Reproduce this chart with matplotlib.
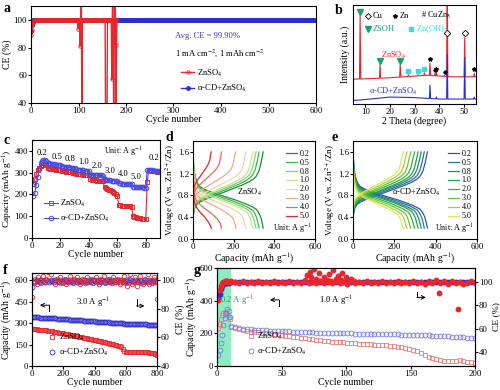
import numpy as np
import matplotlib
matplotlib.use("Agg")
import matplotlib.pyplot as plt

plt.rcParams['font.family'] = ['Liberation Serif', 'DejaVu Sans']
plt.rcParams['mathtext.fontset'] = 'stix'
plt.rcParams['font.size'] = 6.5
plt.rcParams['axes.linewidth'] = 0.8
plt.rcParams['xtick.major.size'] = 2
plt.rcParams['ytick.major.size'] = 2
plt.rcParams['xtick.major.pad'] = 1
plt.rcParams['ytick.major.pad'] = 0.8
plt.rcParams['xtick.labelsize'] = 6.4
plt.rcParams['ytick.labelsize'] = 6.4

RED = '#e8262b'
BLUE = '#2e2fd0'
ZN = 'ZnSO$_4$'
CD = 'α-CD+ZnSO$_4$'
UNIT = 'Unit: A g$^{-1}$'
LBL = 7.0

# ---------------- a: coulombic efficiency, plating/stripping ----------------
red_a_start = [89, 93, 96, 97.5, 98.5, 99.0, 99.3]
red_a_level = 99.6
red_a_last = 181
red_a_evt_x = [99, 103, 106, 107, 157, 158, 159, 160, 170, 172, 174, 175, 177, 179, 180]
red_a_evt_y = [93.5, 81, 118, 25, 25, 25, 25, 25, 57, 118, 25, 76, 118, 25, 82]
blue_a_start = [92, 96, 98.5, 99.5]
blue_a_level = 99.9
blue_a_last = 600

# ---------------- b: XRD ----------------
red_base_x = [5, 20, 35, 45, 55]
red_base_y = [25, 26.5, 29, 27.5, 27.5]
red_peak_x = [7.9, 16.0, 24.2, 27.5, 31.5, 34.0, 36.3, 38.3, 38.9, 42.2, 43.3, 50.4, 54.3]
red_peak_y = [90, 40, 40, 29.5, 29.5, 31.5, 41, 31, 32, 29, 130, 67, 31]
blue_base_x = [5, 12, 20, 30, 40, 55]
blue_base_y = [3.5, 5, 7, 6.5, 5, 5]
blue_peak_x = [36.3, 38.9, 43.3, 50.4, 54.3]
blue_peak_y = [19, 7, 50, 47, 7]

# ---------------- c: rate capability ----------------
rates = ['0.2', '0.5', '0.8', '1.0', '2.0', '3.0', '4.0', '5.0']
red_c = [250, 270, 292, 310, 322, 330, 334, 335, 334, 333,
         322, 320, 318, 317, 316, 315, 314, 313, 312, 311,
         308, 307, 306, 305, 304, 303, 302, 301, 300, 299,
         296, 295, 294, 293, 292, 291, 290, 289, 288, 287,
         270, 268, 267, 266, 265, 264, 263, 262, 261, 260,
         232, 228, 225, 222, 220, 217, 213, 208, 200, 192,
         152, 150, 149, 148, 147, 146, 146, 145, 145, 144,
         102, 98, 95, 93, 92, 90, 89, 88, 87, 85,
         255, 312, 310, 309, 308, 307, 306, 305, 304, 303]
blue_c = [195, 208, 245, 280, 318, 343, 354, 357, 357, 355,
          346, 344, 342, 340, 339, 338, 337, 336, 335, 334,
          330, 328, 327, 326, 325, 324, 323, 322, 321, 320,
          316, 314, 313, 312, 311, 310, 309, 308, 307, 306,
          292, 291, 290, 289, 289, 288, 288, 287, 287, 286,
          270, 268, 267, 266, 265, 264, 264, 263, 263, 262,
          252, 251, 250, 249, 249, 248, 248, 247, 247, 246,
          236, 235, 234, 234, 233, 233, 232, 232, 231, 231,
          312, 313, 312, 311, 310, 309, 308, 307, 306, 305]
c_labels_x = [7, 17.5, 27, 36, 46, 55, 64, 73, 86]
c_labels_y = [392, 372, 364, 350, 330, 308, 296, 281, 368]
c_labels = ['0.2', '0.5', '0.8', '1.0', '2.0', '3.0', '4.0', '5.0', '0.2']

# ---------------- d/e: charge-discharge profiles ----------------
dis_frac = [0, 0.01, 0.03, 0.06, 0.1, 0.2, 0.3, 0.4, 0.5, 0.6, 0.7, 0.8, 0.86, 0.9, 0.93, 0.96, 0.98, 1.0]
dis_v = [1.6, 1.35, 1.15, 1.03, 0.96, 0.89, 0.84, 0.8, 0.76, 0.72, 0.67, 0.62, 0.58, 0.55, 0.5, 0.42, 0.33, 0.2]
chg_frac = [0, 0.02, 0.05, 0.1, 0.2, 0.3, 0.4, 0.5, 0.6, 0.7, 0.8, 0.86, 0.9, 0.94, 0.97, 1.0]
chg_v = [0.42, 0.55, 0.63, 0.68, 0.74, 0.79, 0.84, 0.89, 0.94, 0.99, 1.05, 1.1, 1.15, 1.25, 1.4, 1.6]
cap_d = [345, 325, 310, 295, 262, 212, 140, 90]
pol_d = [0, 0.02, 0.04, 0.06, 0.1, 0.16, 0.24, 0.32]
col_d = ['#1e8c32', '#3bb54a', '#7fd37a', '#c5e68f', '#f7d2a9', '#f2a98a', '#e86a5a', '#e0282a']
cap_e = [360, 345, 330, 315, 298, 280, 262, 245]
pol_e = [0, 0.015, 0.03, 0.04, 0.06, 0.08, 0.1, 0.12]
col_e = ['#2f56b0', '#2a6fa6', '#1f8a7a', '#22a04a', '#2fb53a', '#6cc235', '#a9d23a', '#e2e65a']

# ---------------- f: long cycling 3.0 A/g ----------------
f_x = [1] + list(range(10, 801, 10))
red_f = [262, 258, 257, 256, 255, 254, 253, 252, 250, 249, 248,
         246, 244, 242, 240, 238, 236, 234, 232, 230, 228,
         226, 224, 222, 219, 217, 214, 212, 210, 208, 206,
         204, 201, 199, 196, 194, 191, 189, 187, 185, 182,
         180, 177, 175, 172, 170, 167, 165, 162, 160, 157,
         154, 151, 149, 146, 143, 140, 132, 118, 105, 101,
         100, 100, 99, 100, 101, 100, 99, 98, 100, 99,
         98, 97, 96, 95, 93, 92, 90, 88, 84, 76]
blue_f = [342, 341, 340, 340, 339, 338, 338, 337, 336, 336, 335,
          334, 334, 333, 332, 332, 331, 330, 330, 329, 328,
          327, 327, 326, 325, 324, 324, 323, 322, 321, 320,
          320, 319, 318, 317, 316, 316, 315, 314, 313, 312,
          311, 311, 310, 309, 308, 307, 307, 306, 305, 304,
          303, 303, 302, 301, 300, 300, 299, 298, 297, 297,
          296, 296, 295, 295, 294, 294, 293, 293, 292, 292,
          291, 291, 291, 290, 290, 290, 289, 289, 289, 288]
red_f_ce = [88, 99, 101, 97, 102, 100, 98, 103, 99, 101, 106,
            109, 104, 108, 100, 97, 101, 99, 102, 98, 100,
            101, 97, 100, 103, 99, 98, 101, 100, 102, 99,
            97, 101, 100, 98, 102, 99, 100, 101, 98, 100,
            102, 99, 97, 101, 100, 103, 98, 99, 101, 100,
            98, 102, 99, 100, 101, 97, 100, 99, 103, 98,
            96, 101, 104, 97, 99, 102, 96, 100, 103, 98,
            97, 101, 99, 104, 97, 100, 98, 102, 99, 87]
blue_f_ce = [95, 99.5, 98.8, 100.2, 99.4, 98.9, 100.3, 99.6, 99.0, 100.1, 99.5,
             98.9, 100.2, 99.4, 99.0, 100.3, 99.6, 98.8, 100.1, 99.5, 99.0,
             100.2, 99.4, 98.9, 100.3, 99.6, 99.0, 100.1, 99.5, 98.8, 100.2,
             99.4, 99.0, 100.3, 99.6, 98.9, 100.1, 99.5, 99.0, 100.2, 99.4,
             98.8, 100.3, 99.6, 99.0, 100.1, 99.5, 98.9, 100.2, 99.4, 99.0,
             100.3, 99.6, 98.8, 100.1, 99.5, 99.0, 100.2, 99.4, 98.9, 100.3,
             99.6, 99.0, 100.1, 99.5, 98.8, 100.2, 99.4, 99.0, 100.3, 99.6,
             98.9, 100.1, 99.5, 99.0, 100.2, 99.4, 98.8, 100.3, 99.6, 99.0]

# ---------------- g: long cycling 1.0 A/g ----------------
g_x0 = list(range(1, 11))
red_g0 = [230, 258, 285, 310, 325, 330, 322, 312, 300, 285]
blue_g0 = [70, 98, 140, 192, 254, 295, 326, 346, 335, 300]
red_g0_ce = [85, 93, 97, 99, 100, 101, 101, 101, 100, 100]
blue_g0_ce = [86, 90, 94, 97, 98.5, 99, 99.5, 99.5, 99.5, 99.7]
g_x = list(range(11, 201, 3))
red_g = [238, 232, 225, 218, 214, 211, 208, 206, 204, 202,
         200, 197, 193, 190, 186, 182, 178, 175, 172, 169,
         166, 163, 160, 157, 154, 152, 150, 148, 146, 144,
         142, 140, 138, 137, 135, 134, 132, 131, 129, 128,
         126, 124, 122, 119, 116, 112, 107, 101, 93, 82,
         70, 58, 48, 41, 36, 33, 32, 32, 33, 34,
         32, 27, 22, 17]
blue_g = [245, 238, 233, 229, 226, 224, 222, 221, 219, 218,
          217, 216, 215, 214, 213, 212, 211, 210, 209, 208,
          207, 206, 205, 204, 204, 203, 202, 201, 201, 200,
          199, 199, 198, 198, 197, 197, 196, 196, 195, 195,
          194, 194, 193, 193, 192, 192, 191, 190, 190, 189,
          188, 187, 186, 185, 184, 183, 181, 180, 178, 177,
          175, 173, 171, 169]
red_g_ce = [100.5, 100, 99, 100.5, 99.5, 100, 99, 100.5, 99.5, 100,
            99, 100.5, 99.5, 100, 99, 100.5, 99.5, 100, 99, 100.5,
            99.5, 100, 99, 100.5, 99.5, 100, 99, 100.5, 99.5, 100,
            98.5, 100.5, 99.5, 100, 99, 100.5, 99.5, 100, 99, 100.5,
            99.5, 100, 99, 100.5, 99.5, 100, 99, 100.5, 99.5, 100,
            98.5, 100.5, 99.5, 101.5, 99, 100.5, 98.5, 101, 99.5, 100,
            98.5, 99, 100.5, 99]
red_g_spike_x = [68, 70, 72, 73, 75, 77, 79, 80, 83, 85, 87, 88, 90, 92, 94, 96, 97, 100, 102, 104, 106, 172, 187]
red_g_spike_y = [102, 106, 109, 104, 111, 103, 108, 101, 104, 102, 107, 101, 110, 103, 105, 102, 108, 104, 101, 103, 100.5, 91, 77]
blue_g_ce_level = 99.8


def panel_letter(x, y, s):
    fig.text(x / 500, 1 - y / 390, s, fontsize=10, fontweight='bold', va='top', ha='left')


def ax_at(l, t, r, b):
    return fig.add_axes([l / 500, 1 - b / 390, (r - l) / 500, (b - t) / 390])


fig = plt.figure(figsize=(5, 3.9), dpi=100)

# ---- a
ax = ax_at(31, 6, 316, 103)
red_ce = np.full(red_a_last, red_a_level)
red_ce[:len(red_a_start)] = red_a_start
red_ce[np.array(red_a_evt_x) - 1] = red_a_evt_y
blue_ce = np.full(blue_a_last, blue_a_level)
blue_ce[:len(blue_a_start)] = blue_a_start
ax.plot(np.arange(1, blue_a_last + 1), blue_ce, '-o', color=BLUE, ms=2.5, lw=1, label=CD)
ax.plot(np.arange(1, red_a_last + 1), red_ce, '-o', color=RED, ms=2.5, mfc='none', mew=0.6, lw=1, label=ZN)
ax.set_xlim(0, 600)
ax.set_ylim(40, 110)
ax.set_yticks([40, 60, 80, 100])
ax.set_xlabel('Cycle number', fontsize=LBL, labelpad=0)
ax.set_ylabel('CE (%)', fontsize=LBL, labelpad=1)
ax.text(372, 88.5, 'Avg. CE = 99.90%', color='#3a3acc', fontsize=6.2, ha='center', va='center')
ax.text(303, 76, '1 mA cm$^{-2}$, 1 mAh cm$^{-2}$', fontsize=6.2, ha='left', va='center')
h, l = ax.get_legend_handles_labels()
ax.legend(h[::-1], l[::-1], loc='center left', bbox_to_anchor=(0.51, 0.23), frameon=False,
          fontsize=6.2, handlelength=1.6, handletextpad=0.3, labelspacing=0.5, borderpad=0)
panel_letter(3, 2, 'a')


def spectrum(bx, by, px, py, w=0.25):
    xs = list(bx)
    ys = list(by)
    for p, top in zip(px, py):
        base = np.interp(p, bx, by)
        xs += [p - w, p, p + w]
        ys += [base, top, base]
    order = np.argsort(xs, kind='stable')
    return np.array(xs)[order], np.array(ys)[order]


# ---- b
ax = ax_at(353, 5, 476, 104)
x, y = spectrum(red_base_x, red_base_y, red_peak_x, red_peak_y)
ax.plot(x, y, color=RED, lw=0.8)
x, y = spectrum(blue_base_x, blue_base_y, blue_peak_x, blue_peak_y)
ax.plot(x, y, color=BLUE, lw=0.8)
ax.set_xlim(5, 55)
ax.set_ylim(0, 100)
ax.set_yticks([])
ax.set_xticks([10, 20, 30, 40, 50])
ax.set_xlabel('2 Theta (degree)', fontsize=LBL, labelpad=0)
ax.set_ylabel('Intensity (a.u.)', fontsize=LBL, labelpad=2)
GRN = '#1f9e74'
CYAN = '#33dede'
ax.plot([7.9, 16.0, 24.2], [92.5, 43, 43], 'v', color=GRN, ms=3.8)
ax.plot([27.5, 31.5, 34.0], [33, 33, 35], 's', color=CYAN, ms=2.6)
ax.plot([36.3, 38.9, 54.3], [45, 35, 35], '*', color='k', ms=3)
ax.plot([38.3, 42.2], [34, 32], 'P', color='k', ms=2.2)
ax.plot([43.3, 50.4], [72, 72], 'D', mfc='white', mec='k', ms=3.3, mew=0.6)
ax.plot([0.12], [0.89], 'D', mfc='white', mec='k', ms=3, mew=0.6, transform=ax.transAxes)
ax.text(0.16, 0.89, 'Cu', transform=ax.transAxes, fontsize=6, va='center')
ax.plot([0.34], [0.89], '*', color='k', ms=3, transform=ax.transAxes)
ax.text(0.38, 0.89, 'Zn', transform=ax.transAxes, fontsize=6, va='center')
ax.text(0.55, 0.89, '# CuZn$_5$', transform=ax.transAxes, fontsize=6, va='center')
ax.plot([0.12], [0.76], 'v', color=GRN, ms=3.8, transform=ax.transAxes)
ax.text(0.16, 0.76, 'ZSOH', transform=ax.transAxes, fontsize=6, va='center', color=GRN)
ax.plot([0.47], [0.76], 's', color=CYAN, ms=2.6, transform=ax.transAxes)
ax.text(0.51, 0.76, 'Zn(OH)$_2$', transform=ax.transAxes, fontsize=6, va='center', color=CYAN)
ax.text(0.23, 0.49, ZN, transform=ax.transAxes, fontsize=6, color=RED, va='center')
ax.text(0.13, 0.13, CD, transform=ax.transAxes, fontsize=6, color=BLUE, va='center')
panel_letter(335, 4, 'b')

# ---- c
ax = ax_at(32, 140, 160, 238)
cyc = np.arange(1, len(red_c) + 1)
ax.plot(cyc, red_c, '-s', color=RED, ms=3.3, mfc='none', mew=0.7, lw=0.8, label=ZN)
ax.plot(cyc, blue_c, '-o', color='#4a4ae0', ms=3.3, mfc='none', mew=0.7, lw=0.8, label=CD)
ax.set_xlim(0, 90)
ax.set_ylim(0, 450)
ax.set_xticks([0, 20, 40, 60, 80])
ax.set_yticks([0, 100, 200, 300, 400])
ax.set_xlabel('Cycle number', fontsize=LBL, labelpad=0)
ax.set_ylabel('Capacity (mAh g$^{-1}$)', fontsize=6.8, labelpad=0)
for xx, yy, s in zip(c_labels_x, c_labels_y, c_labels):
    ax.text(xx, yy, s, fontsize=6.2, ha='center', va='center')
ax.text(64, 395, UNIT, fontsize=5.8, ha='center', va='center')
ax.legend(loc='lower left', bbox_to_anchor=(0.06, 0.1), frameon=False, fontsize=6.2,
          handlelength=1.6, handletextpad=0.3, labelspacing=0.4, borderpad=0)
panel_letter(3, 134, 'c')


def profiles(ax, caps, pols, cols):
    for q, dv, c, r in zip(caps, pols, cols, rates):
        v = np.array(chg_v) + dv
        fr = np.array(chg_frac)
        n = (v < 1.6).sum()
        fr_c = np.append(fr[:n], fr[n] if n < len(fr) else 1.0)
        v_c = np.append(v[:n], 1.6)
        ax.plot(fr_c / fr_c[-1] * q, v_c, color=c, lw=0.9, label=r)
        v = np.array(dis_v) - dv
        v[0] = 1.6
        fr = np.array(dis_frac)
        n = (v > 0.2).sum()
        fr_d = np.append(fr[:n], fr[n] if n < len(fr) else 1.0)
        v_d = np.append(v[:n], 0.2)
        ax.plot(fr_d / fr_d[-1] * q, v_d, color=c, lw=0.9)
    ax.set_xlim(0, 600)
    ax.set_ylim(0, 1.8)
    ax.set_xticks([0, 200, 400, 600])
    ax.set_yticks([0, 0.4, 0.8, 1.2, 1.6])
    ax.set_xlabel('Capacity (mAh g$^{-1}$)', fontsize=LBL, labelpad=0)
    ax.set_ylabel('Voltage (V vs. Zn$^{2+}$/Zn)', fontsize=6.5, labelpad=0.5)
    ax.legend(loc='upper right', bbox_to_anchor=(1.0, 0.97), frameon=False, fontsize=5.8,
              handlelength=1.4, handletextpad=0.3, labelspacing=0.12, borderpad=0.2)
    ax.text(0.97, 0.03, UNIT, transform=ax.transAxes, fontsize=5.8, ha='right', va='bottom')


# ---- d
ax = ax_at(193, 141, 315, 239)
profiles(ax, cap_d, pol_d, col_d)
ax.text(280, 0.86, ZN, fontsize=6, ha='center', va='center')
panel_letter(166, 131, 'd')

# ---- e
ax = ax_at(353, 141, 477, 239)
profiles(ax, cap_e, pol_e, col_e)
ax.text(305, 0.86, CD, fontsize=6, ha='center', va='center')
panel_letter(331, 131, 'e')

# ---- f
ax = ax_at(32, 273, 157, 366)
ax.plot(f_x, red_f, 's', color=RED, ms=3.2, mfc='none', mew=0.6, label=ZN)
ax.plot(f_x, blue_f, 'o', color=BLUE, ms=3.5, mfc='none', mew=0.6, label=CD)
ax.set_xlim(0, 800)
ax.set_ylim(0, 650)
ax.set_xticks([0, 200, 400, 600, 800])
ax.set_yticks([0, 150, 300, 450, 600])
ax.set_xlabel('Cycle number', fontsize=LBL, labelpad=0)
ax.set_ylabel('Capacity (mAh g$^{-1}$)', fontsize=LBL, labelpad=0.5)
ax.text(390, 440, '3.0 A g$^{-1}$', fontsize=6.2, ha='center', va='center')
ax.legend(loc='lower left', bbox_to_anchor=(0.1, 0.04), frameon=False, fontsize=6.2,
          handlelength=0.8, handletextpad=0.4, labelspacing=0.4, borderpad=0)
ax.annotate('', xy=(50, 425), xytext=(110, 425),
            arrowprops=dict(arrowstyle='->', lw=0.7, color='k', shrinkA=0, shrinkB=0))
ax.plot([110, 110], [425, 385], color='k', lw=0.7)
ax.annotate('', xy=(720, 420), xytext=(670, 420),
            arrowprops=dict(arrowstyle='->', lw=0.7, color='k', shrinkA=0, shrinkB=0))
ax.plot([670, 670], [420, 470], color='k', lw=0.7)
ax2 = ax.twinx()
ax2.plot(f_x, blue_f_ce, 'o', color=BLUE, ms=3.5, mfc='none', mew=0.6)
ax2.plot(f_x, red_f_ce, 'o', color=RED, ms=3.2, mfc='none', mew=0.6)
ax2.set_ylim(40, 105)
ax2.set_yticks([40, 60, 80, 100])
ax2.set_ylabel('CE (%)', fontsize=LBL, labelpad=0.5)
panel_letter(3, 264, 'f')

# ---- g
ax = ax_at(217, 268, 475, 366)
ax.axvspan(0, 10.5, color='#8eecc0', lw=0)
ax.plot(g_x0 + g_x, red_g0 + red_g, 's', color='#f07878', ms=3.2, mfc='none', mew=0.6, label=ZN)
ax.plot(g_x0 + g_x, blue_g0 + blue_g, 'o', color='#7878e8', ms=3.5, mfc='none', mew=0.6, label=CD)
ax.set_xlim(0, 200)
ax.set_ylim(0, 600)
ax.set_xticks([0, 50, 100, 150, 200])
ax.set_yticks([0, 200, 400, 600])
ax.set_xlabel('Cycle number', fontsize=LBL, labelpad=0)
ax.set_ylabel('Capacity (mAh g$^{-1}$)', fontsize=LBL, labelpad=0.5)
ax.text(2, 400, '0.2 A g$^{-1}$', fontsize=6.2, color='#1e9a5a', ha='left', va='center')
ax.text(92, 400, '1.0 A g$^{-1}$', fontsize=6.2, ha='center', va='center')
ax.legend(loc='lower left', bbox_to_anchor=(0.1, 0.05), frameon=False, fontsize=6.2,
          handlelength=0.8, handletextpad=0.4, labelspacing=0.4, borderpad=0)
ax.annotate('', xy=(41, 405), xytext=(48, 405),
            arrowprops=dict(arrowstyle='->', lw=0.7, color='k', shrinkA=0, shrinkB=0))
ax.plot([48, 48], [405, 370], color='k', lw=0.7)
ax.annotate('', xy=(162, 420), xytext=(155, 420),
            arrowprops=dict(arrowstyle='->', lw=0.7, color='k', shrinkA=0, shrinkB=0))
ax.plot([155, 155], [420, 455], color='k', lw=0.7)
ax2 = ax.twinx()
blue_g_ce = np.full(len(g_x), blue_g_ce_level)
ax2.plot(g_x0 + g_x, blue_g0_ce + list(blue_g_ce), 'o', color=BLUE, ms=3.2)
ax2.plot(g_x0 + g_x, red_g0_ce + red_g_ce, 'o', color=RED, ms=3.2)
ax2.plot(red_g_spike_x, red_g_spike_y, 'o', color=RED, ms=3.2)
ax2.set_ylim(28, 112)
ax2.set_yticks([40, 60, 80, 100])
ax2.set_ylabel('CE (%)', fontsize=6.8, labelpad=0)
panel_letter(194, 264, 'g')

fig.savefig('out.png', dpi=100)
